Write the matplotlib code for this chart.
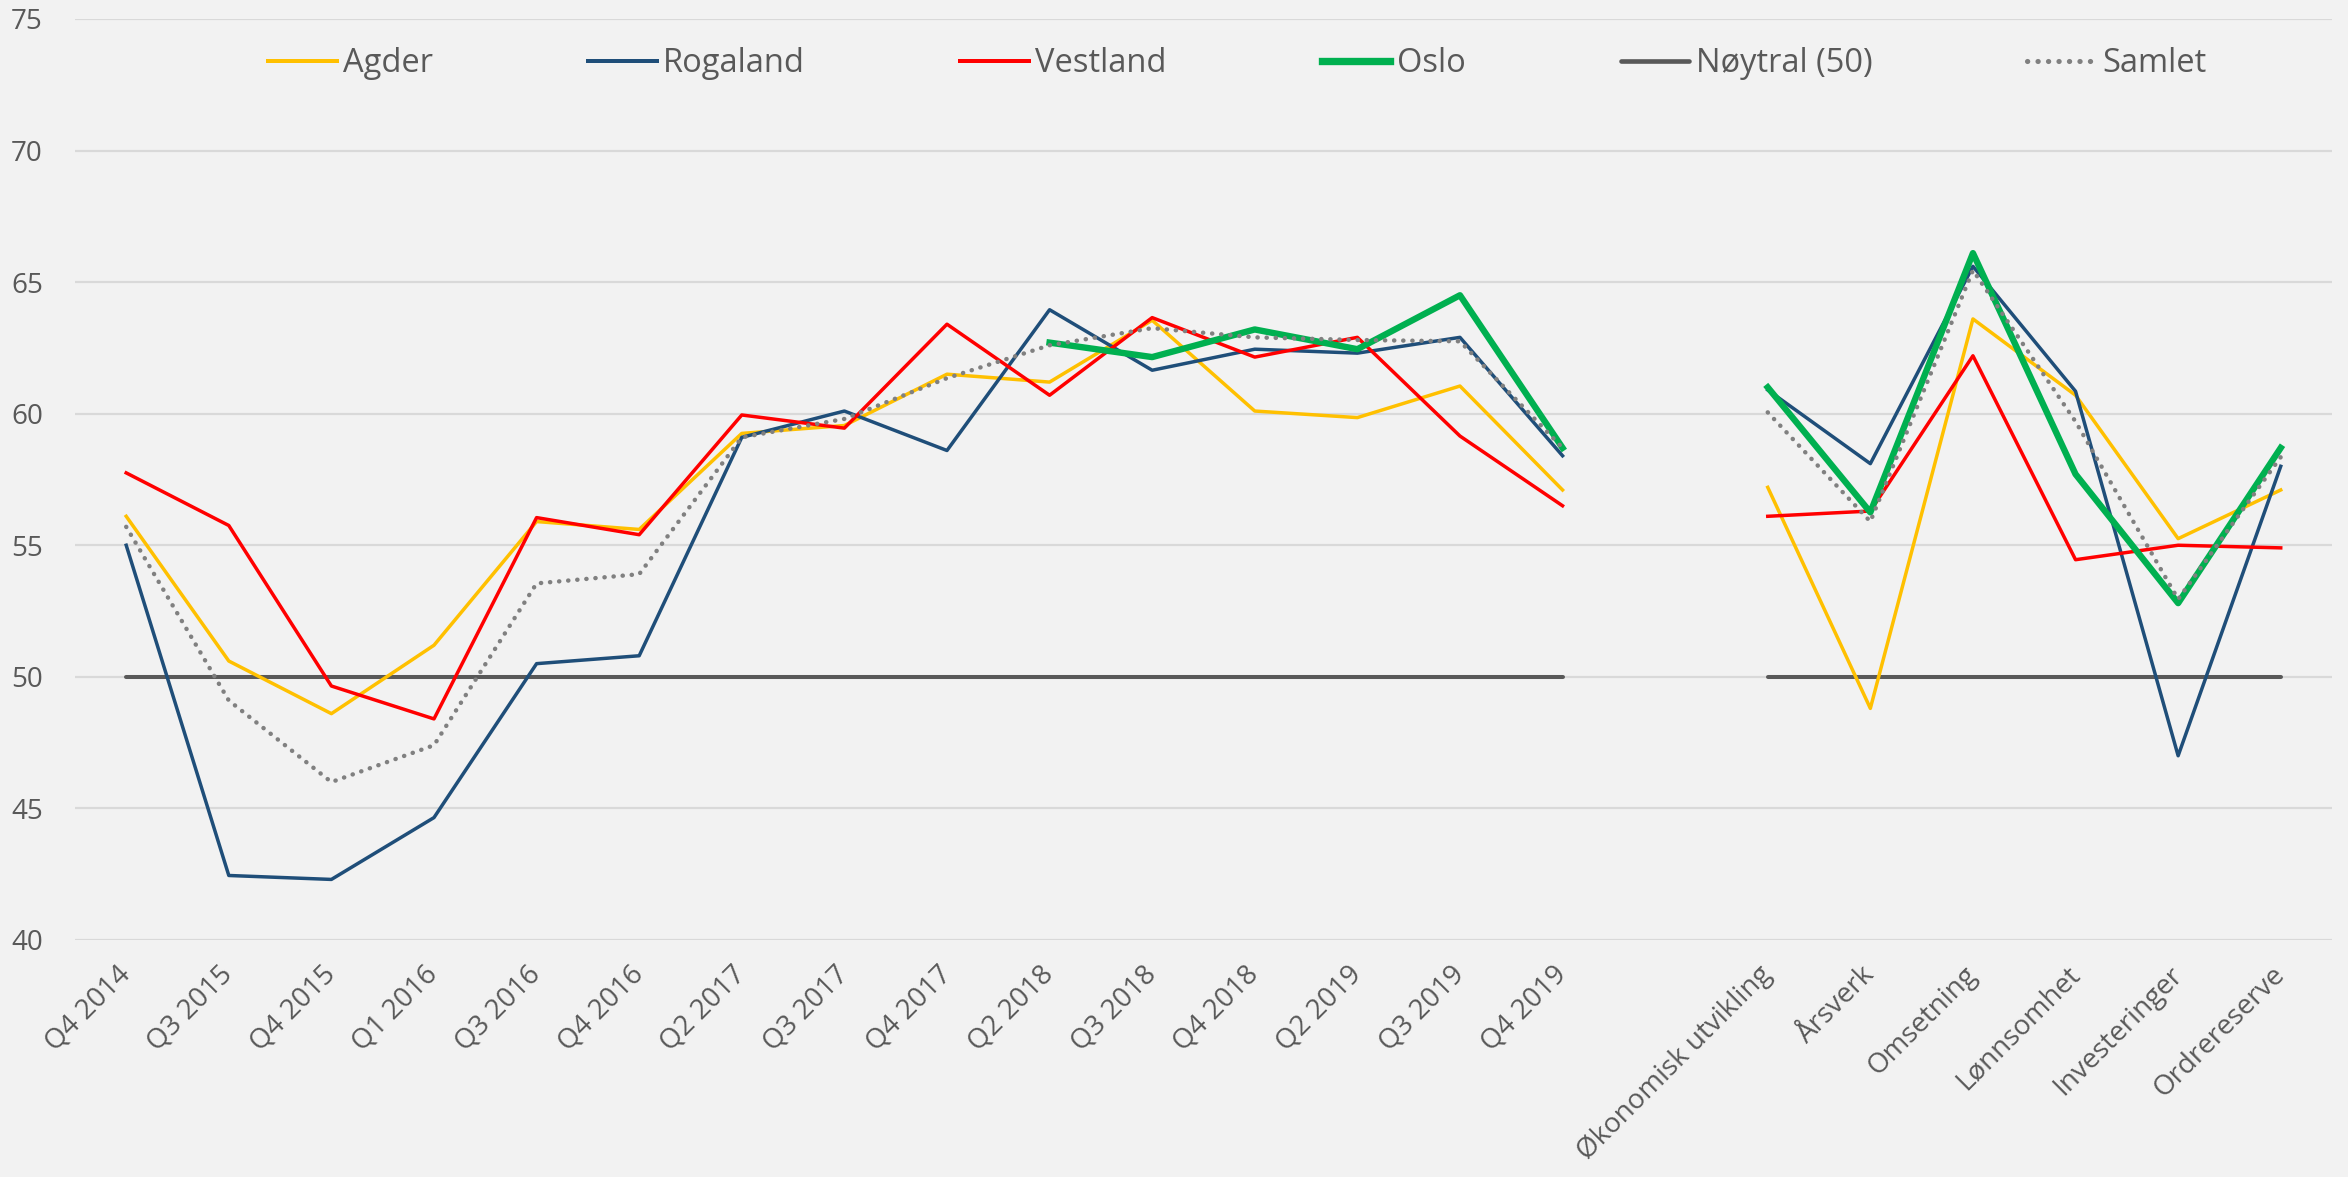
import numpy as np
import matplotlib
matplotlib.use("Agg")
import matplotlib.pyplot as plt

categories = ["Q4 2014", "Q3 2015", "Q4 2015", "Q1 2016", "Q3 2016", "Q4 2016",
              "Q2 2017", "Q3 2017", "Q4 2017", "Q2 2018", "Q3 2018", "Q4 2018",
              "Q2 2019", "Q3 2019", "Q4 2019", "",
              "Økonomisk utvikling", "Årsverk", "Omsetning", "Lønnsomhet",
              "Investeringer", "Ordrereserve"]
nan = np.nan
agder = [56.1, 50.6, 48.6, 51.2, 55.9, 55.6, 59.25, 59.55, 61.5, 61.2, 63.55, 60.1,
         59.85, 61.05, 57.1, nan, 57.2, 48.8, 63.6, 60.7, 55.25, 57.1]
rogaland = [55.0, 42.45, 42.3, 44.65, 50.5, 50.8, 59.1, 60.1, 58.6, 63.95, 61.65, 62.45,
            62.3, 62.9, 58.4, nan, 60.9, 58.1, 65.6, 60.85, 47.0, 58.0]
vestland = [57.75, 55.75, 49.65, 48.4, 56.05, 55.4, 59.95, 59.45, 63.4, 60.7, 63.65, 62.15,
            62.9, 59.15, 56.5, nan, 56.1, 56.3, 62.2, 54.45, 55.0, 54.9]
oslo = [nan, nan, nan, nan, nan, nan, nan, nan, nan, 62.7, 62.15, 63.2,
        62.45, 64.5, 58.7, nan, 61.0, 56.25, 66.1, 57.7, 52.8, 58.7]
noytral = [50, 50, 50, 50, 50, 50, 50, 50, 50, 50, 50, 50, 50, 50, 50, nan,
           50, 50, 50, 50, 50, 50]
samlet = [55.7, 49.1, 46.0, 47.4, 53.55, 53.9, 59.1, 59.8, 61.35, 62.6, 63.25, 62.9,
          62.8, 62.75, 58.7, nan, 60.05, 55.9, 65.45, 59.7, 52.95, 58.35]
yticks = [40, 45, 50, 55, 60, 65, 70, 75]

FONT = ["Open Sans", "DejaVu Sans"]
plt.rcParams["font.family"] = FONT
TXT = "#595959"
BG = "#F2F2F2"

fig = plt.figure(figsize=(23.48, 11.77), dpi=100, facecolor=BG)
ax = fig.add_axes([0.0319, 0.2014, 0.9613, 0.7825], facecolor=BG)

x = np.arange(len(categories))
ax.plot(x, noytral, color="#595959", lw=2.9, solid_capstyle="round", label="Nøytral (50)", zorder=2)
ax.plot(x, agder, color="#FFC000", lw=2.5, label="Agder", zorder=3)
ax.plot(x, rogaland, color="#1F4E79", lw=2.5, label="Rogaland", zorder=3)
ax.plot(x, vestland, color="#FF0000", lw=2.5, label="Vestland", zorder=3)
ax.plot(x, oslo, color="#00B050", lw=4.6, label="Oslo", zorder=4)
ax.plot(x, samlet, color="#808080", lw=3.2, linestyle=(0, (0.05, 2.0)),
        dash_capstyle="round", label="Samlet", zorder=5)

ax.set_xlim(-0.5, len(categories) - 0.5)
ax.set_ylim(40, 75)
ax.set_yticks(yticks)
ax.set_yticklabels([str(v) for v in yticks], fontsize=20, color=TXT)
ax.yaxis.grid(True, color="#D9D9D9", lw=1.6)
ax.set_axisbelow(True)
ax.tick_params(axis="y", length=0, pad=23)
ax.tick_params(axis="x", length=0, pad=22)
ax.set_xticks(x)
ax.set_xticklabels(categories, fontsize=20, color=TXT, rotation=45,
                   ha="right", va="center", rotation_mode="anchor")
for s in ax.spines.values():
    s.set_visible(False)

handles, labels = ax.get_legend_handles_labels()
order = ["Agder", "Rogaland", "Vestland", "Oslo", "Nøytral (50)", "Samlet"]
hmap = dict(zip(labels, handles))
leg = fig.legend([hmap[k] for k in order], order, loc="center", bbox_to_anchor=(0.527, 0.946),
                 ncol=6, frameon=False, fontsize=23.5, handlelength=2.1, handletextpad=0.2,
                 columnspacing=4.75)
for t in leg.get_texts():
    t.set_color(TXT)
for h in leg.get_lines():
    h.set_linewidth(h.get_linewidth() * 1.15)

fig.savefig("out.png", dpi=100, facecolor=BG)
